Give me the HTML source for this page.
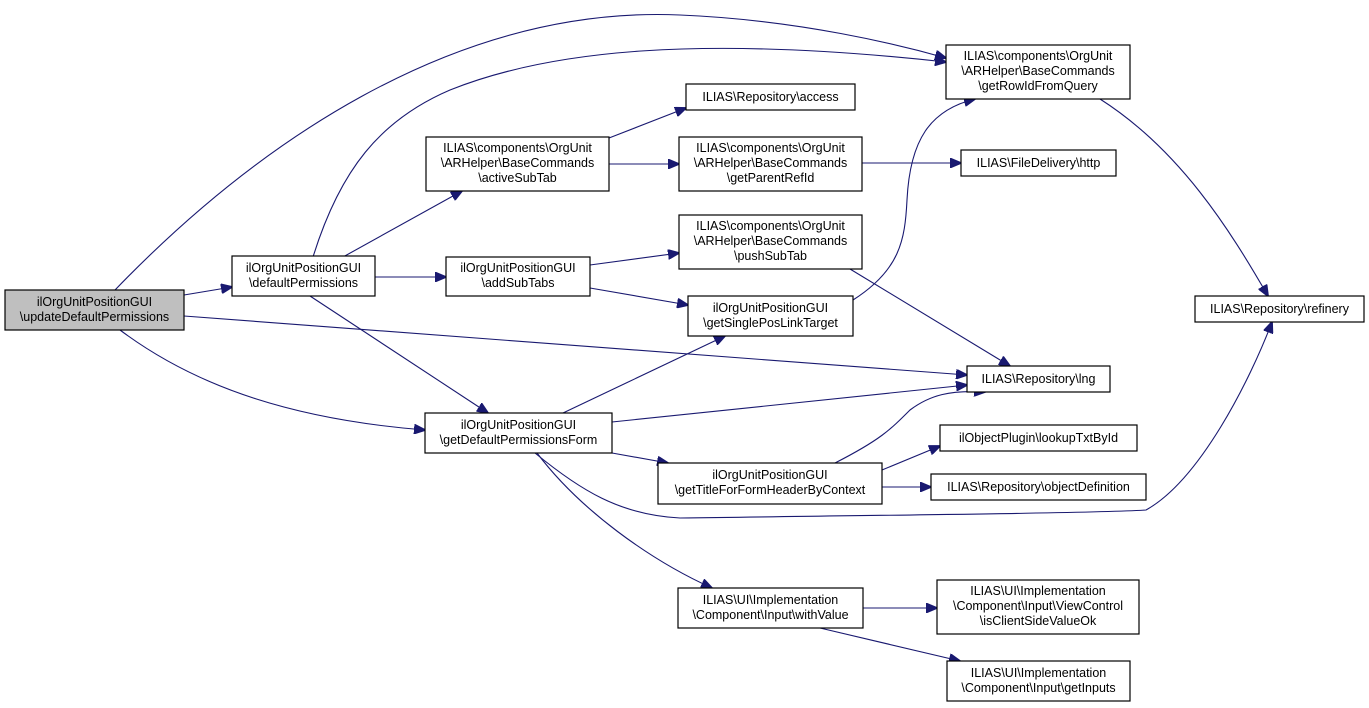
<!DOCTYPE html>
<html><head><meta charset="utf-8"><style>
html,body{margin:0;padding:0;background:#fff}
svg{display:block}
text{font-family:"Liberation Sans",sans-serif;font-size:12.5px;fill:#000}
rect{stroke:#000;stroke-width:1.2}
path.e{stroke:#191970;stroke-width:1.1;fill:none}
</style></head><body>
<svg width="1369" height="708" viewBox="0 0 1369 708">
<defs><marker id="a" markerWidth="12" markerHeight="10" refX="11" refY="5" orient="auto" markerUnits="userSpaceOnUse"><polygon points="0,0 12,5 0,10" fill="#191970" stroke="#191970"/></marker></defs>
<g marker-end="url(#a)">
<path class="e" d="M184,295 L232,287"/>
<path class="e" d="M115,290 C250,150 450,5 680,15 C800,20 900,45 946,58"/>
<path class="e" d="M184,316 L967,375"/>
<path class="e" d="M120,330 C200,390 300,420 425,430"/>
<path class="e" d="M313,257 C340,170 380,120 450,90 C550,50 700,35 946,62"/>
<path class="e" d="M343,257 L462,191"/>
<path class="e" d="M375,277 L446,277"/>
<path class="e" d="M310,296 L488,413"/>
<path class="e" d="M609,138 L686,108"/>
<path class="e" d="M609,164 L679,164"/>
<path class="e" d="M862,163 L961,163"/>
<path class="e" d="M590,265 L679,253"/>
<path class="e" d="M590,288 L688,305"/>
<path class="e" d="M850,269 L1010,366"/>
<path class="e" d="M853,300 C900,270 905,240 907,200 C910,140 930,110 975,99"/>
<path class="e" d="M1100,99 C1180,150 1230,230 1268,296"/>
<path class="e" d="M563,413 L725,336"/>
<path class="e" d="M612,422 L967,385"/>
<path class="e" d="M612,453 L668,463"/>
<path class="e" d="M535,453 C580,490 620,515 680,518 C900,515 1100,513 1146,510 C1200,480 1250,380 1272,322"/>
<path class="e" d="M537,453 C580,510 650,560 712,588"/>
<path class="e" d="M835,463 C880,440 890,430 910,410 C930,395 950,390 985,392"/>
<path class="e" d="M882,470 L940,446"/>
<path class="e" d="M882,487 L931,487"/>
<path class="e" d="M863,608 L937,608"/>
<path class="e" d="M820,628 L960,661"/>
</g>
<g>
<rect x="5" y="290" width="179" height="40" fill="#bfbfbf"/>
<text x="94.5" y="306" text-anchor="middle">ilOrgUnitPositionGUI</text><text x="94.5" y="321" text-anchor="middle">\updateDefaultPermissions</text>
<rect x="232" y="256" width="143" height="40" fill="#fff"/>
<text x="303.5" y="272" text-anchor="middle">ilOrgUnitPositionGUI</text><text x="303.5" y="287" text-anchor="middle">\defaultPermissions</text>
<rect x="426" y="137" width="183" height="54" fill="#fff"/>
<text x="517.5" y="152" text-anchor="middle">ILIAS\components\OrgUnit</text><text x="517.5" y="167" text-anchor="middle">\ARHelper\BaseCommands</text><text x="517.5" y="182" text-anchor="middle">\activeSubTab</text>
<rect x="446" y="257" width="144" height="39" fill="#fff"/>
<text x="518" y="272" text-anchor="middle">ilOrgUnitPositionGUI</text><text x="518" y="287" text-anchor="middle">\addSubTabs</text>
<rect x="425" y="413" width="187" height="40" fill="#fff"/>
<text x="518.5" y="429" text-anchor="middle">ilOrgUnitPositionGUI</text><text x="518.5" y="444" text-anchor="middle">\getDefaultPermissionsForm</text>
<rect x="686" y="84" width="169" height="26" fill="#fff"/>
<text x="770.5" y="101" text-anchor="middle">ILIAS\Repository\access</text>
<rect x="679" y="137" width="183" height="54" fill="#fff"/>
<text x="770.5" y="152" text-anchor="middle">ILIAS\components\OrgUnit</text><text x="770.5" y="167" text-anchor="middle">\ARHelper\BaseCommands</text><text x="770.5" y="182" text-anchor="middle">\getParentRefId</text>
<rect x="679" y="215" width="183" height="54" fill="#fff"/>
<text x="770.5" y="230" text-anchor="middle">ILIAS\components\OrgUnit</text><text x="770.5" y="245" text-anchor="middle">\ARHelper\BaseCommands</text><text x="770.5" y="260" text-anchor="middle">\pushSubTab</text>
<rect x="688" y="296" width="165" height="40" fill="#fff"/>
<text x="770.5" y="312" text-anchor="middle">ilOrgUnitPositionGUI</text><text x="770.5" y="327" text-anchor="middle">\getSinglePosLinkTarget</text>
<rect x="658" y="463" width="224" height="41" fill="#fff"/>
<text x="770" y="479" text-anchor="middle">ilOrgUnitPositionGUI</text><text x="770" y="494" text-anchor="middle">\getTitleForFormHeaderByContext</text>
<rect x="678" y="588" width="185" height="40" fill="#fff"/>
<text x="770.5" y="604" text-anchor="middle">ILIAS\UI\Implementation</text><text x="770.5" y="619" text-anchor="middle">\Component\Input\withValue</text>
<rect x="946" y="45" width="184" height="54" fill="#fff"/>
<text x="1038" y="60" text-anchor="middle">ILIAS\components\OrgUnit</text><text x="1038" y="75" text-anchor="middle">\ARHelper\BaseCommands</text><text x="1038" y="90" text-anchor="middle">\getRowIdFromQuery</text>
<rect x="961" y="150" width="155" height="26" fill="#fff"/>
<text x="1038.5" y="167" text-anchor="middle">ILIAS\FileDelivery\http</text>
<rect x="967" y="366" width="143" height="26" fill="#fff"/>
<text x="1038.5" y="383" text-anchor="middle">ILIAS\Repository\lng</text>
<rect x="940" y="425" width="197" height="26" fill="#fff"/>
<text x="1038.5" y="442" text-anchor="middle">ilObjectPlugin\lookupTxtById</text>
<rect x="931" y="474" width="215" height="26" fill="#fff"/>
<text x="1038.5" y="491" text-anchor="middle">ILIAS\Repository\objectDefinition</text>
<rect x="937" y="580" width="202" height="54" fill="#fff"/>
<text x="1038" y="595" text-anchor="middle">ILIAS\UI\Implementation</text><text x="1038" y="610" text-anchor="middle">\Component\Input\ViewControl</text><text x="1038" y="625" text-anchor="middle">\isClientSideValueOk</text>
<rect x="947" y="661" width="183" height="40" fill="#fff"/>
<text x="1038.5" y="677" text-anchor="middle">ILIAS\UI\Implementation</text><text x="1038.5" y="692" text-anchor="middle">\Component\Input\getInputs</text>
<rect x="1195" y="296" width="169" height="26" fill="#fff"/>
<text x="1279.5" y="313" text-anchor="middle">ILIAS\Repository\refinery</text>
</g>
</svg>
</body></html>
